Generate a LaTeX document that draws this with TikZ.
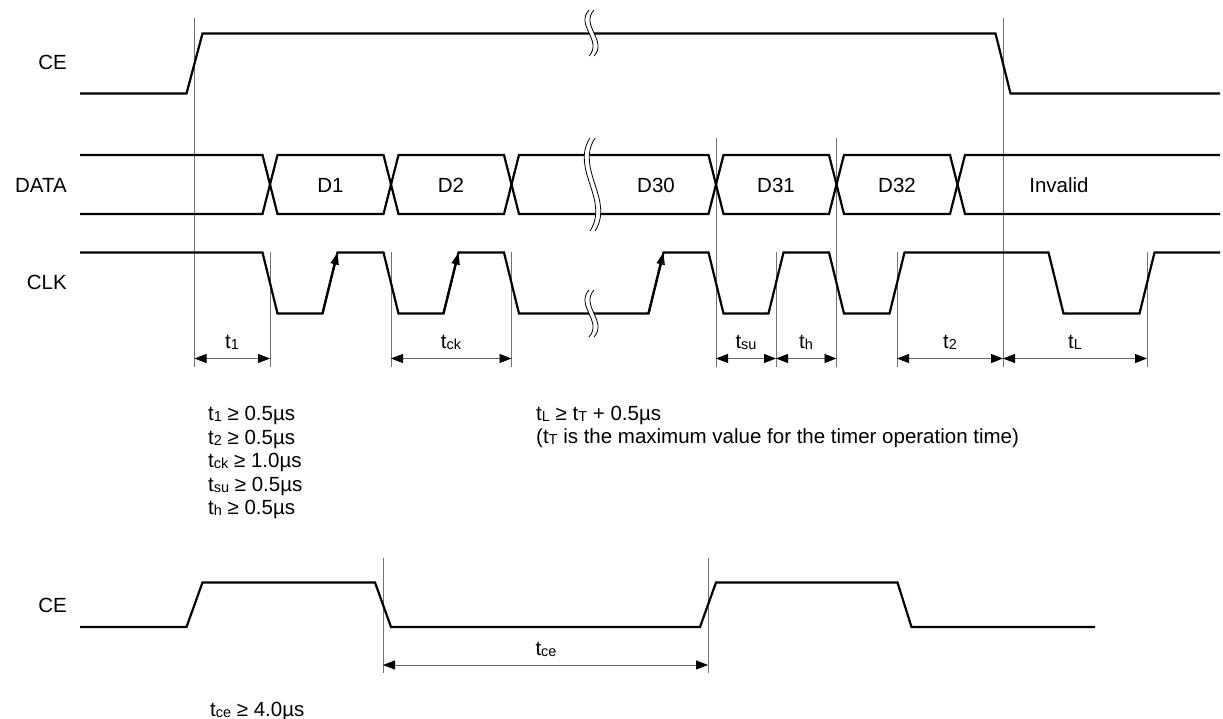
\documentclass[tikz,border=0pt]{standalone}
\usepackage{fontspec}
\setmainfont{Liberation Sans}
\usetikzlibrary{arrows.meta}
\newcommand{\tsb}[1]{t\raisebox{-1pt}{\fontsize{14.5}{14.5}\selectfont #1}}
\newcommand{\wavebreak}[4]{%
  \pgfmathsetmacro{\brkya}{#2+(#3-#2)/3}%
  \pgfmathsetmacro{\brkyb}{#2+2*(#3-#2)/3}%
  \fill[white] (#1,#2) .. controls ({#1-#4},\brkya) and ({#1+#4},\brkyb) .. (#1,#3)
     -- ({#1+5},#3) .. controls ({#1+5+#4},\brkyb) and ({#1+5-#4},\brkya) .. ({#1+5},#2) -- cycle;
  \draw[brkline] (#1,#2) .. controls ({#1-#4},\brkya) and ({#1+#4},\brkyb) .. (#1,#3);
  \draw[brkline] ({#1+5},#2) .. controls ({#1+5-#4},\brkya) and ({#1+5+#4},\brkyb) .. ({#1+5},#3);
}
\tikzset{
  wave/.style={line width=2.2pt, line join=miter},
  guide/.style={line width=0.8pt, draw=black!55},
  dimline/.style={line width=0.8pt, draw=black!60,
    {Triangle[length=12pt,width=9pt,color=black]}-{Triangle[length=12pt,width=9pt,color=black]}},
  lbl/.style={font=\fontsize{20.5}{20.5}\selectfont, inner sep=0pt},
  edgearrow/.style={line width=2.2pt, -{Triangle[length=12pt,width=8pt]}},
  brkline/.style={line width=0.8pt}
}
\begin{document}
\begin{tikzpicture}[x=1pt,y=-1pt]
\useasboundingbox (0,0) rectangle (1223,719);

% ---------- signal names ----------
\node[lbl, anchor=east] (ceA) at (67,62) {CE};
\node[lbl, anchor=east] (data) at (67,185) {DATA};
\node[lbl, anchor=east] (clk) at (67,282) {CLK};
\node[lbl, anchor=east] (ceB) at (67,605) {CE};

% ---------- guide lines ----------
\draw[guide] (194.5,18) -- (194.5,367);
\draw[guide] (270,252.5) -- (270,367);
\draw[guide] (391,252.5) -- (391,367);
\draw[guide] (511.5,252.5) -- (511.5,367);
\draw[guide] (716,138) -- (716,367);
\draw[guide] (776,252.5) -- (776,367);
\draw[guide] (836.5,138) -- (836.5,367);
\draw[guide] (897,252.5) -- (897,367);
\draw[guide] (1003,18) -- (1003,367);
\draw[guide] (1147,252.5) -- (1147,367);
\draw[guide] (383,558) -- (383,672.5);
\draw[guide] (708,558) -- (708,672.5);

% ---------- CE (top) ----------
\draw[wave] (80,93.5) -- (186.5,93.5) -- (202.5,33.5) -- (995.5,33.5) -- (1010.5,93.5) -- (1220,93.5);

% ---------- DATA ----------
\draw[wave] (80,155) -- (262.5,155) -- (277.5,214) -- (383.5,214) -- (398.5,155) -- (504,155) -- (519,214)
  -- (708.5,214) -- (723.5,155) -- (829,155) -- (844,214) -- (950,214) -- (965,155) -- (1220,155);
\draw[wave] (80,214) -- (262.5,214) -- (277.5,155) -- (383.5,155) -- (398.5,214) -- (504,214) -- (519,155)
  -- (708.5,155) -- (723.5,214) -- (829,214) -- (844,155) -- (950,155) -- (965,214) -- (1220,214);

% ---------- CLK ----------
\draw[wave] (80,252.5) -- (262.5,252.5) -- (277.5,313.5) -- (322.5,313.5) -- (337.5,252.5) -- (383.5,252.5)
  -- (398.5,313.5) -- (443.5,313.5) -- (458.5,252.5) -- (504,252.5) -- (519,313.5) -- (648.5,313.5)
  -- (663.5,252.5) -- (708.5,252.5) -- (723.5,313.5) -- (768.5,313.5) -- (783.5,252.5) -- (829,252.5)
  -- (844,313.5) -- (889.5,313.5) -- (904.5,252.5) -- (1048.5,252.5) -- (1063.5,313.5) -- (1139.5,313.5)
  -- (1154.5,252.5) -- (1220,252.5);
\coordinate (r1a) at (322.5,313.5); \coordinate (r1b) at (337.5,252.5);
\coordinate (r2a) at (443.5,313.5); \coordinate (r2b) at (458.5,252.5);
\coordinate (r3a) at (648.5,313.5); \coordinate (r3b) at (663.5,252.5);
\draw[edgearrow] (r1a) -- (r1b);
\draw[edgearrow] (r2a) -- (r2b);
\draw[edgearrow] (r3a) -- (r3b);

% ---------- breaks ----------
\wavebreak{589}{10}{56}{14}
\wavebreak{590}{138}{231}{20}
\wavebreak{589}{290}{337}{14}

% ---------- data labels ----------
\node[lbl] (d1) at (330.5,185) {D1};
\node[lbl] (d2) at (451,185) {D2};
\node[lbl] (d30) at (656,185) {D30};
\node[lbl] (d31) at (776,185) {D31};
\node[lbl] (d32) at (897,185) {D32};
\node[lbl] (inv) at (1059,185) {Invalid};

% ---------- dimensions ----------
\coordinate (a1) at (194.5,358.5); \coordinate (b1) at (270,358.5);
\coordinate (a2) at (391,358.5);   \coordinate (b2) at (511.5,358.5);
\coordinate (a3) at (716,358.5);   \coordinate (b3) at (776,358.5);
\coordinate (a4) at (776,358.5);   \coordinate (b4) at (836.5,358.5);
\coordinate (a5) at (897,358.5);   \coordinate (b5) at (1003,358.5);
\coordinate (a6) at (1003,358.5);  \coordinate (b6) at (1147,358.5);
\draw[dimline] (a1) -- (b1);
\draw[dimline] (a2) -- (b2);
\draw[dimline] (a3) -- (b3);
\draw[dimline] (a4) -- (b4);
\draw[dimline] (a5) -- (b5);
\draw[dimline] (a6) -- (b6);
\node[lbl] (lt1) at (232,342) {\tsb{1}};
\node[lbl] (ltck) at (451,342) {\tsb{ck}};
\node[lbl] (ltsu) at (746,342) {\tsb{su}};
\node[lbl] (lth) at (806,342) {\tsb{h}};
\node[lbl] (lt2) at (950,342) {\tsb{2}};
\node[lbl] (ltL) at (1075,342) {\tsb{L}};

% ---------- bottom CE ----------
\draw[wave] (80,627) -- (186.5,627) -- (202.5,582.5) -- (375,582.5) -- (391,627) -- (700,627)
  -- (716,582.5) -- (897.5,582.5) -- (911.5,627) -- (1095,627);
\coordinate (a7) at (383,665); \coordinate (b7) at (708,665);
\draw[dimline] (a7) -- (b7);
\node[lbl] (ltce) at (546,649) {\tsb{ce}};

% ---------- formulas ----------
\node[lbl, anchor=base west] (f1) at (208,420.5) {\tsb{1} ≥ 0.5µs};
\node[lbl, anchor=base west] (f2) at (208,444) {\tsb{2} ≥ 0.5µs};
\node[lbl, anchor=base west] (f3) at (208,467.5) {\tsb{ck} ≥ 1.0µs};
\node[lbl, anchor=base west] (f4) at (208,491) {\tsb{su} ≥ 0.5µs};
\node[lbl, anchor=base west] (f5) at (208,514.5) {\tsb{h} ≥ 0.5µs};
\node[lbl, anchor=base west] (f6) at (536,420.5) {\tsb{L} ≥ \tsb{T} + 0.5µs};
\node[lbl, anchor=base west] (f7) at (536,443.5) {(\tsb{T} is the maximum value for the timer operation time)};
\node[lbl, anchor=base west] (f8) at (210,716.5) {\tsb{ce} ≥ 4.0µs};
\end{tikzpicture}
\end{document}
